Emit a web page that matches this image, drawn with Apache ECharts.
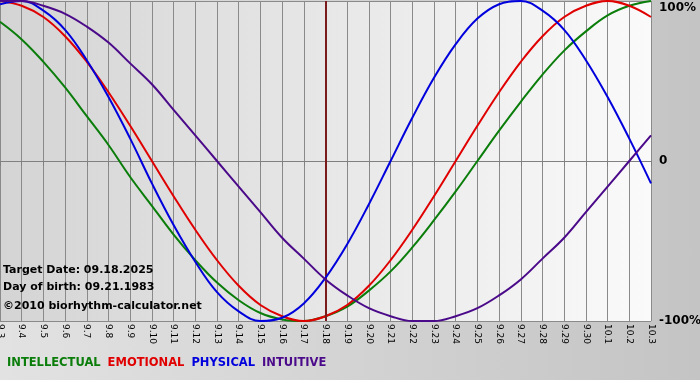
<!DOCTYPE html>
<html><head><meta charset="utf-8">
<script src="https://cdn.jsdelivr.net/npm/echarts@6/dist/echarts.min.js"></script>
<style>
html,body{margin:0;padding:0;}
#c{width:700px;height:380px;background:linear-gradient(90deg,#e2e2e2 0%,#d0d0d0 60%,#c4c4c4 100%);}
</style></head>
<body><div id="c"></div>
<script>
const categories = ['9.3','9.4','9.5','9.6','9.7','9.8','9.9','9.10','9.11','9.12','9.13','9.14','9.15','9.16','9.17','9.18','9.19','9.20','9.21','9.22','9.23','9.24','9.25','9.26','9.27','9.28','9.29','9.30','10.1','10.2','10.3'];
const physical = [0.98,1.00,0.94,0.82,0.63,0.40,0.14,-0.14,-0.40,-0.63,-0.82,-0.94,-1.00,-0.98,-0.89,-0.73,-0.52,-0.27,0,0.27,0.52,0.73,0.89,0.98,1.00,0.94,0.82,0.63,0.40,0.14,-0.14];
const emotional = [1.00,0.97,0.90,0.78,0.62,0.43,0.22,0,-0.22,-0.43,-0.62,-0.78,-0.90,-0.97,-1.00,-0.97,-0.90,-0.78,-0.62,-0.43,-0.22,0,0.22,0.43,0.62,0.78,0.90,0.97,1.00,0.97,0.90];
const intellectual = [0.87,0.76,0.62,0.46,0.28,0.10,-0.10,-0.28,-0.46,-0.62,-0.76,-0.87,-0.95,-0.99,-1.00,-0.97,-0.91,-0.81,-0.69,-0.54,-0.37,-0.19,0,0.19,0.37,0.54,0.69,0.81,0.91,0.97,1.00];
const intuitive = [1.00,1.00,0.97,0.92,0.84,0.74,0.61,0.48,0.32,0.16,0,-0.16,-0.32,-0.48,-0.61,-0.74,-0.84,-0.92,-0.97,-1.00,-1.00,-0.97,-0.92,-0.84,-0.74,-0.61,-0.48,-0.32,-0.16,0,0.16];
const yTickLabels = {'-1':'-100%','0':'0','1':'100%'};
const targetDate = '9.18';
const infoLines = ['Target Date: 09.18.2025','Day of birth: 09.21.1983','©2010 biorhythm-calculator.net'];
const seriesNames = ['INTELLECTUAL','EMOTIONAL','PHYSICAL','INTUITIVE'];
const seriesColors = ['#0a7d0a','#e00000','#0000dd','#4b0a8a'];

const chart = echarts.init(document.getElementById('c'), null, {renderer:'canvas'});
const font = '"DejaVu Sans", Verdana, sans-serif';
const dataArr = [intellectual, emotional, physical, intuitive];
const series = seriesNames.map((n,i)=>({
  name:n, type:'line', data:dataArr[i], smooth:0.4, symbol:'none',
  lineStyle:{color:seriesColors[i], width:2}, itemStyle:{color:seriesColors[i]},
  z: 3+i
}));
series[0].markLine = {
  silent:true, symbol:'none', label:{show:false},
  lineStyle:{color:'#7a1a1a', width:2, type:'solid'},
  data:[{xAxis:targetDate}]
};
chart.setOption({
  animation:false,
  grid:{left:0, right:49, top:1, bottom:59, show:true, borderWidth:0, containLabel:false, outerBoundsMode:'none',
    backgroundColor:new echarts.graphic.LinearGradient(0,0,1,0,[{offset:0,color:'#d4d4d4'},{offset:1,color:'#fafafa'}])},
  legend:{
    left:2, top:356, icon:'none', itemWidth:0, itemGap:2, padding:0,
    textStyle:{fontFamily:font, fontWeight:'bold', fontSize:11.5},
    data:seriesNames.map((n,i)=>({name:n, textStyle:{color:seriesColors[i]}})),
    selectedMode:false
  },
  xAxis:{
    type:'category', data:categories, boundaryGap:false,
    axisLine:{show:true, lineStyle:{color:'#808080', width:1}},
    axisTick:{show:true, interval:0, length:5, lineStyle:{color:'#808080'}},
    axisLabel:{interval:0, rotate:-90, fontSize:9, color:'#000', fontFamily:font, margin:3},
    splitLine:{show:true, interval:0, lineStyle:{color:'#8a8a8a', width:1}}
  },
  yAxis:{
    type:'value', position:'right', min:-1, max:1, interval:1,
    axisLine:{show:false}, axisTick:{show:false},
    axisLabel:{
      formatter:v=>(v===1?'{top|'+yTickLabels[String(v)]+'}':yTickLabels[String(v)]),
      fontFamily:font, fontWeight:'bold', fontSize:12, color:'#000', margin:8,
      rich:{top:{padding:[13,0,0,0], fontFamily:font, fontWeight:'bold', fontSize:12, color:'#000'}}
    },
    splitLine:{show:true, lineStyle:{color:'#8a8a8a', width:1}}
  },
  graphic:infoLines.map((t,i)=>({
    type:'text', left:3, top:[265,282,301][i], z:100,
    style:{text:t, font:'bold 11px '+font, fill:'#000'}
  })),
  series:series
});
</script></body></html>
